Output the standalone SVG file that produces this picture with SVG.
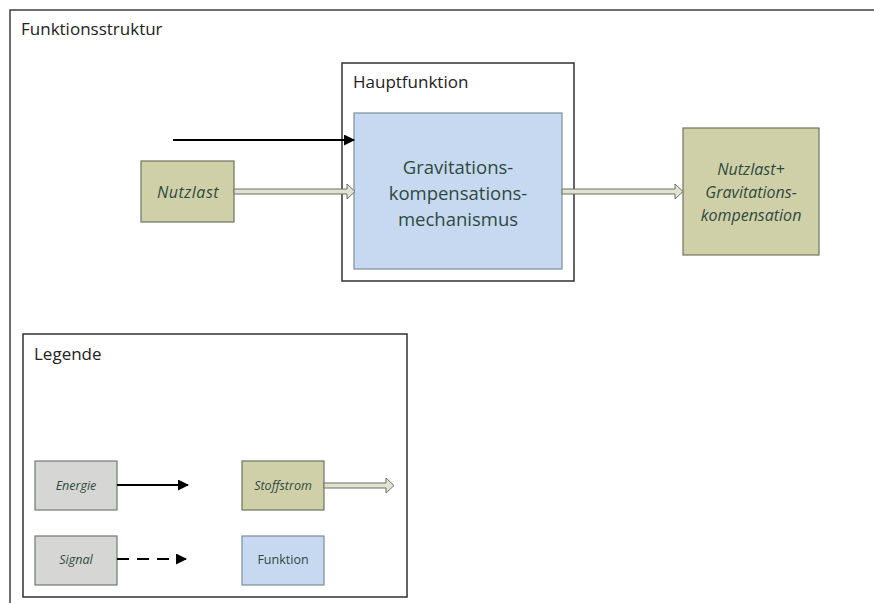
<svg xmlns="http://www.w3.org/2000/svg" width="874" height="603" viewBox="0 0 874 603">
<defs>
<marker id="ah" markerWidth="11" markerHeight="11" refX="10" refY="5.5" orient="auto" markerUnits="userSpaceOnUse">
<path d="M0,0 L11,5.5 L0,11 Z" fill="#000"/>
</marker>
<style>
.frame{fill:none;stroke:#404040;stroke-width:1.5}
.box{fill:#fff;stroke:#303030;stroke-width:1.5}
.stoff{fill:#d0d0a8;stroke:#6b7560;stroke-width:1.2}
.func{fill:#c6d9f0;stroke:#7d8c9a;stroke-width:1.2}
.sig{fill:#d6d6d4;stroke:#707a70;stroke-width:1.2}
.t{font-family:"Open Sans","Liberation Sans",sans-serif;fill:#222;font-size:17px}
.lbl{font-family:"Open Sans","Liberation Sans",sans-serif;fill:#2e4a40;text-anchor:middle}
.it{font-style:italic}
.sa{fill:#e2e2d2;stroke:#6e6e62;stroke-width:1}
.e{stroke:#000;stroke-width:2;fill:none}
</style>
</defs>
<rect width="874" height="603" fill="#fff"/>
<g id="frame">
<path class="frame" d="M10,603 L10,10 L874,10"/>
<text class="t" x="21" y="35">Funktionsstruktur</text>
</g>
<g id="hauptfunktion">
<rect class="box" x="342" y="63" width="232" height="218"/>
<text class="t" x="353" y="88">Hauptfunktion</text>
</g>
<g id="mechanismus">
<rect class="func" x="354" y="113" width="208" height="156"/>
<text class="lbl" font-size="18.5" x="458"><tspan x="458" y="174">Gravitations-</tspan><tspan x="458" y="200">kompensations-</tspan><tspan x="458" y="226">mechanismus</tspan></text>
</g>
<g id="nutzlast">
<rect class="stoff" x="141" y="161" width="93" height="61"/>
<text class="lbl it" font-size="16" letter-spacing="0.5" x="188" y="198">Nutzlast</text>
</g>
<g id="ergebnis">
<rect class="stoff" x="683" y="128" width="136" height="127"/>
<text class="lbl it" font-size="16" x="751"><tspan x="751" y="175">Nutzlast+</tspan><tspan x="751" y="198">Gravitations-</tspan><tspan x="751" y="221">kompensation</tspan></text>
</g>
<g id="connectors">
<line class="e" x1="173" y1="140" x2="354" y2="140" marker-end="url(#ah)"/>
<path class="sa" d="M234,189 L347,189 L347,184 L355,191.5 L347,199 L347,194 L234,194 Z"/>
<path class="sa" d="M562,189 L675,189 L675,184 L683,191.5 L675,199 L675,194 L562,194 Z"/>
</g>
<g id="legende">
<rect class="box" x="23" y="334" width="384" height="263"/>
<text class="t" x="34" y="360">Legende</text>
</g>
<g id="leg-energie">
<rect class="sig" x="35" y="461" width="82" height="49"/>
<text class="lbl it" font-size="12.5" x="76" y="490">Energie</text>
<line class="e" x1="117" y1="485" x2="188" y2="485" marker-end="url(#ah)"/>
</g>
<g id="leg-stoffstrom">
<rect class="stoff" x="242" y="461" width="82" height="49"/>
<text class="lbl it" font-size="12.5" x="283" y="490">Stoffstrom</text>
<path class="sa" d="M324,483 L386,483 L386,478 L394,485.5 L386,493 L386,488 L324,488 Z"/>
</g>
<g id="leg-signal">
<rect class="sig" x="35" y="536" width="82" height="49"/>
<text class="lbl it" font-size="12.5" x="76" y="564">Signal</text>
<line class="e" x1="117" y1="559" x2="186" y2="559" stroke-dasharray="12,8" marker-end="url(#ah)"/>
</g>
<g id="leg-funktion">
<rect class="func" x="242" y="536" width="82" height="49"/>
<text class="lbl" font-size="12.5" x="283" y="564">Funktion</text>
</g>
</svg>
